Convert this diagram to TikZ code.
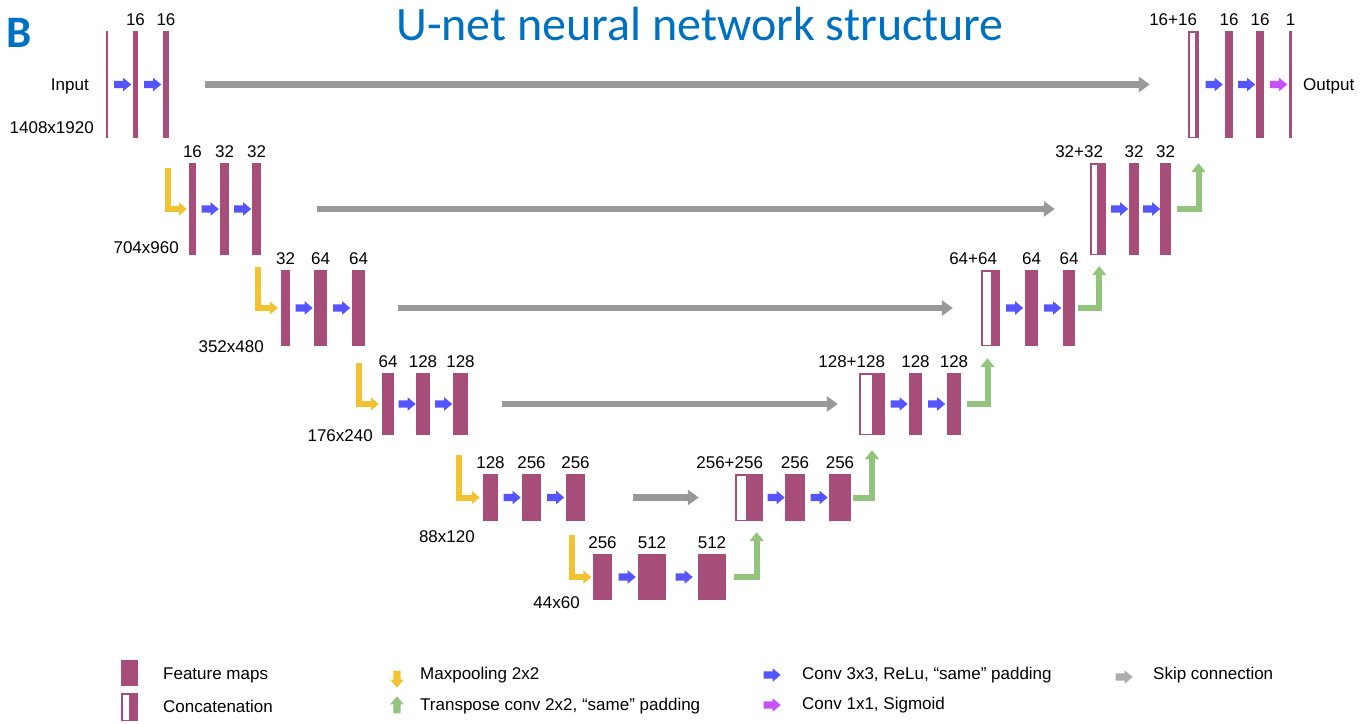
\documentclass[tikz,border=0pt]{standalone}
\usepackage{fontspec}
\setmainfont{Liberation Sans}
\newfontfamily\titlefont{Carlito}
\usetikzlibrary{arrows.meta,shapes.arrows}

\definecolor{fmapc}{HTML}{A64D79}
\definecolor{convc}{HTML}{5555FF}
\definecolor{sigc}{HTML}{C850FF}
\definecolor{poolc}{HTML}{F1C232}
\definecolor{upc}{HTML}{93C47D}
\definecolor{skipc}{HTML}{999999}
\definecolor{titlec}{HTML}{0070C0}

\begin{document}
\begin{tikzpicture}[x=1pt,y=-1pt,
  font=\fontsize{17}{20}\selectfont,
  label distance=5pt,
  every label/.style={inner sep=0pt},
  txt/.style={inner sep=0pt},
  fmap/.style={rectangle,fill=fmapc,inner sep=0pt,minimum width=#1},
  cat/.style 2 args={fmap=#1,
    path picture={\fill[white] ([shift={(1.5pt,1.5pt)}]path picture bounding box.south west)
      rectangle ([shift={(#2,-1.5pt)}]path picture bounding box.north west);}},
  lv0/.style={minimum height=107pt},
  lv1/.style={minimum height=92pt},
  lv2/.style={minimum height=76pt},
  lv3/.style={minimum height=62pt},
  lv4/.style={minimum height=47pt},
  lv5/.style={minimum height=46pt},
  conv/.style={single arrow,fill=convc,inner sep=3.5pt,minimum height=17pt,
    single arrow head extend=3pt,single arrow tip angle=80},
  skip/.style={draw=skipc,line width=6.5pt,-{Triangle[width=15pt,length=11pt]}},
  pool/.style={draw=poolc,line width=6pt,-{Triangle[width=13pt,length=8pt]}},
  upconv/.style={draw=upc,line width=6pt,-{Triangle[width=14pt,length=9pt]}}]
\useasboundingbox (0,0) rectangle (1371,723);

\node[txt,anchor=base west,font=\titlefont\bfseries\fontsize{45}{48}\selectfont,text=titlec] (tag) at (6,47) {B};
\node[txt,anchor=base,font=\titlefont\fontsize{48}{50}\selectfont,text=titlec] (title) at (700,40) {U-net neural network structure};

% level 0
\node[fmap=2.5pt,lv0] (in) at (106.75,84.5) {};
\node[fmap=5pt,lv0,label=16] (e01) at (135.5,84.5) {};
\node[fmap=6pt,lv0,label=16] (e02) at (166,84.5) {};
\node[cat={11pt}{7pt},lv0] (c0) at (1193.5,84.5) {};
\node[fmap=8pt,lv0,label=16] (d01) at (1229,84.5) {};
\node[fmap=8pt,lv0,label=16] (d02) at (1260,84.5) {};
\node[fmap=3pt,lv0,label=1] (out) at (1290.5,84.5) {};
\node[txt,anchor=south east] (c0t) at ([xshift=-2pt,yshift=5pt]c0.north east) {16+16};
\node[txt,anchor=east] (inlbl) at (89,86) {Input};
\node[txt,anchor=west] (outlbl) at (1303,86) {Output};
\node[txt,anchor=east] (s0) at (94,128) {1408x1920};

% level 1
\node[fmap=7pt,lv1,label=16] (e10) at (192.5,209) {};
\node[fmap=9pt,lv1,label=32] (e11) at (224.5,209) {};
\node[fmap=9pt,lv1,label=32] (e12) at (256.5,209) {};
\node[cat={16pt}{7pt},lv1] (c1) at (1098,209) {};
\node[fmap=10pt,lv1,label=32] (d11) at (1134,209) {};
\node[fmap=11pt,lv1,label=32] (d12) at (1165.5,209) {};
\node[txt,anchor=south east] (c1t) at ([xshift=-3pt,yshift=5pt]c1.north east) {32+32};
\node[txt,anchor=east] (s1) at (179,248) {704x960};

% level 2
\node[fmap=9pt,lv2,label=32] (e20) at (285.5,308) {};
\node[fmap=13pt,lv2,label=64] (e21) at (320.5,308) {};
\node[fmap=13pt,lv2,label=64] (e22) at (358.5,308) {};
\node[cat={19pt}{10pt},lv2] (c2) at (990.5,308) {};
\node[fmap=13pt,lv2,label=64] (d21) at (1031.5,308) {};
\node[fmap=12pt,lv2,label=64] (d22) at (1069,308) {};
\node[txt,anchor=south east] (c2t) at ([xshift=-3pt,yshift=5pt]c2.north east) {64+64};
\node[txt,anchor=east] (s2) at (264,347) {352x480};

% level 3
\node[fmap=12pt,lv3,label=64] (e30) at (388,404) {};
\node[fmap=14pt,lv3,label=128] (e31) at (423,404) {};
\node[fmap=15pt,lv3,label=128] (e32) at (460.5,404) {};
\node[cat={26pt}{13pt},lv3] (c3) at (872,404) {};
\node[fmap=13pt,lv3,label=128] (d31) at (915.5,404) {};
\node[fmap=14pt,lv3,label=128] (d32) at (954,404) {};
\node[txt,anchor=south east] (c3t) at ([yshift=5pt]c3.north east) {128+128};
\node[txt,anchor=east] (s3) at (373,436) {176x240};

% level 4
\node[fmap=15pt,lv4,label=128] (e40) at (490.5,497.5) {};
\node[fmap=19pt,lv4,label=256] (e41) at (531.5,497.5) {};
\node[fmap=19pt,lv4,label=256] (e42) at (575.5,497.5) {};
\node[cat={28pt}{11pt},lv4] (c4) at (749,497.5) {};
\node[fmap=20pt,lv4,label=256] (d41) at (795,497.5) {};
\node[fmap=22pt,lv4,label=256] (d42) at (840,497.5) {};
\node[txt,anchor=south east] (c4t) at ([yshift=5pt]c4.north east) {256+256};
\node[txt,anchor=east] (s4) at (475,537) {88x120};

% bottom
\node[fmap=19pt,lv5,label=256] (b0) at (602.5,577) {};
\node[fmap=28pt,lv5,label=512] (b1) at (652,577) {};
\node[fmap=28pt,lv5,label=512] (b2) at (712,577) {};
\node[txt,anchor=east] (s5) at (580,603) {44x60};

% convolutions
\path (in) -- node[conv] {} (e01);
\path (e01) -- node[conv] {} (e02);
\path (c0) -- node[conv] {} (d01);
\path (d01) -- node[conv] {} (d02);
\path (d02) -- node[conv,fill=sigc] {} (out);
\path (e10) -- node[conv] {} (e11);
\path (e11) -- node[conv] {} (e12);
\path (c1) -- node[conv] {} (d11);
\path (d11) -- node[conv] {} (d12);
\path (e20) -- node[conv] {} (e21);
\path (e21) -- node[conv] {} (e22);
\path (c2) -- node[conv] {} (d21);
\path (d21) -- node[conv] {} (d22);
\path (e30) -- node[conv] {} (e31);
\path (e31) -- node[conv] {} (e32);
\path (c3) -- node[conv] {} (d31);
\path (d31) -- node[conv] {} (d32);
\path (e40) -- node[conv] {} (e41);
\path (e41) -- node[conv] {} (e42);
\path (c4) -- node[conv] {} (d41);
\path (d41) -- node[conv] {} (d42);
\path (b0) -- node[conv] {} (b1);
\path (b1) -- node[conv] {} (b2);

% skip connections
\draw[skip,shorten <=36pt,shorten >=38pt] (e02) -- (c0);
\draw[skip,shorten <=56pt,shorten >=35pt] (e12) -- (c1);
\draw[skip,shorten <=33pt,shorten >=28pt] (e22) -- (c2);
\draw[skip,shorten <=34pt,shorten >=21pt] (e32) -- (c3);
\draw[skip,shorten <=48pt,shorten >=36pt] (e42) -- (c4);

% max pooling
\draw[pool,shorten <=30pt,shorten >=2pt] ([xshift=1.5pt]e02.south) |- (e10.west);
\draw[pool,shorten <=12pt,shorten >=3pt] ([xshift=1pt]e12.south) |- (e20.west);
\draw[pool,shorten <=17pt,shorten >=3pt] (e22.south) |- (e30.west);
\draw[pool,shorten <=20pt,shorten >=3pt] ([xshift=-2pt]e32.south) |- (e40.west);
\draw[pool,shorten <=14pt,shorten >=1.5pt] ([xshift=-4pt]e42.south) |- (b0.west);

% up convolutions
\draw[upconv,shorten <=6pt,shorten >=25pt] (d12.east) -| ([xshift=5pt]c0.south);
\draw[upconv,shorten <=3pt,shorten >=11pt] (d22.east) -| ([xshift=1.3pt]c1.south);
\draw[upconv,shorten <=6pt,shorten >=12pt] (d32.east) -| ([xshift=-3pt]c2.south);
\draw[upconv,shorten <=2pt,shorten >=15pt] (d42.east) -| (c3.south);
\draw[upconv,shorten <=8pt,shorten >=11pt] (b2.east) -| ([xshift=7.7pt]c4.south);

% legend
\node[fmap=17pt,minimum height=26pt] (kfmap) at (129.5,673) {};
\node[txt,anchor=west] (kfmapt) at (163,675) {Feature maps};
\node[cat={17pt}{8pt},minimum height=28pt] (kcat) at (129.5,707) {};
\node[txt,anchor=west] (kcatt) at (163,706) {Concatenation};
\node[conv,fill=poolc,shape border rotate=270] (kpool) at (397,677) {};
\node[txt,anchor=west] (kpoolt) at (420,675) {Maxpooling 2x2};
\node[conv,fill=upc,shape border rotate=90] (kup) at (397,707) {};
\node[txt,anchor=west] (kupt) at (420,706) {Transpose conv 2x2, “same” padding};
\node[conv] (kconv) at (770,675) {};
\node[txt,anchor=west] (kconvt) at (802,675) {Conv 3x3, ReLu, “same” padding};
\node[conv,fill=sigc] (ksig) at (770,705) {};
\node[txt,anchor=west] (ksigt) at (802,705) {Conv 1x1, Sigmoid};
\node[conv,fill=skipc!80] (kskip) at (1122,677) {};
\node[txt,anchor=west] (kskipt) at (1153,675) {Skip connection};
\end{tikzpicture}
\end{document}
